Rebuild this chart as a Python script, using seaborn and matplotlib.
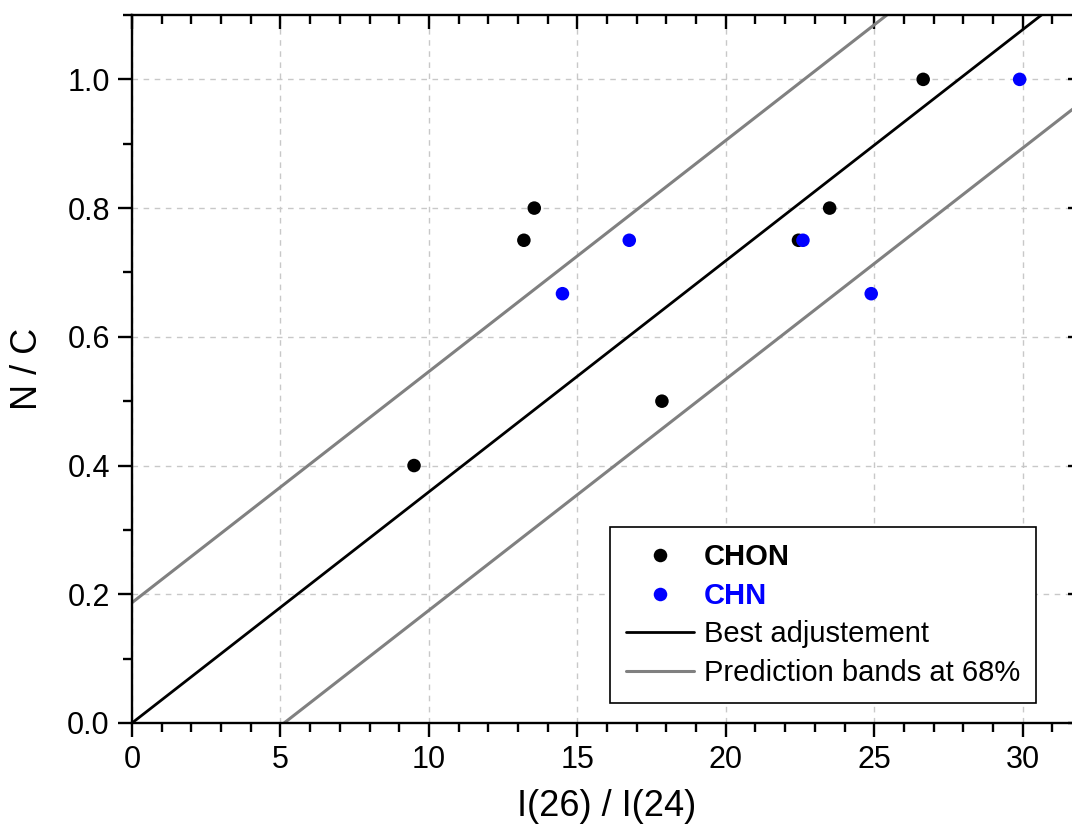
import matplotlib
matplotlib.use("Agg")
import matplotlib.pyplot as plt
import seaborn as sns
import pandas as pd
from matplotlib.ticker import MultipleLocator

# measured points
chon_x = [9.5, 13.2, 13.55, 17.85, 22.45, 23.5, 26.65]
chon_y = [0.4, 0.75, 0.8, 0.5, 0.75, 0.8, 1.0]
chn_x = [14.5, 16.75, 22.6, 24.9, 29.9]
chn_y = [0.667, 0.75, 0.75, 0.667, 1.0]

# fit line and 68% prediction bands (end points)
line_x = [0, 32]
fit_y = [0.0, 1.149]
upper_y = [0.187, 1.336]
lower_y = [-0.184, 0.965]

sns.set_theme(style="white")
plt.rcParams['font.family'] = ['Liberation Sans', 'DejaVu Sans']
plt.rcParams.update({'text.color': 'black', 'axes.labelcolor': 'black',
                     'xtick.color': 'black', 'ytick.color': 'black'})

fig = plt.figure(figsize=(10.72, 8.36), dpi=100)
ax = fig.add_axes([132 / 1072, 113 / 836, 950 / 1072, 708 / 836])

ax.grid(True, color='#c8c8c8', linestyle=(0, (4, 4)), linewidth=1)
ax.set_axisbelow(True)

sns.lineplot(x=line_x, y=upper_y, color='#808080', linewidth=2.2, label='Prediction bands at 68%', ax=ax)
sns.lineplot(x=line_x, y=lower_y, color='#808080', linewidth=2.2, label='_nolegend_', ax=ax)
sns.lineplot(x=line_x, y=fit_y, color='black', linewidth=2, label='Best adjustement', ax=ax)

pts = pd.DataFrame({
    'x': chon_x + chn_x,
    'y': chon_y + chn_y,
    'group': ['CHON'] * len(chon_x) + ['CHN'] * len(chn_x),
})
sns.scatterplot(data=pts, x='x', y='y', hue='group',
                palette={'CHON': 'black', 'CHN': 'blue'},
                s=95, linewidth=0, ax=ax, zorder=5)

ax.set_xlim(0, 32)
ax.set_ylim(0, 1.1)
ax.xaxis.set_major_locator(MultipleLocator(5))
ax.xaxis.set_minor_locator(MultipleLocator(1))
ax.yaxis.set_major_locator(MultipleLocator(0.2))
ax.yaxis.set_minor_locator(MultipleLocator(0.1))
ax.yaxis.set_major_formatter(matplotlib.ticker.FormatStrFormatter('%.1f'))

for sp in ax.spines.values():
    sp.set_color('black')
    sp.set_linewidth(1.7)

ax.tick_params(which='both', colors='black', width=1.7, labelsize=22, pad=6)
ax.tick_params(which='major', length=10)
ax.tick_params(which='minor', length=6.5)
ax.tick_params(axis='x', which='both', direction='out', bottom=True, top=True)
ax.tick_params(axis='y', which='both', direction='out', left=True, right=True)
# top and right ticks point inward
for t in ax.xaxis.get_major_ticks() + ax.xaxis.get_minor_ticks():
    t.tick2line.set_marker(matplotlib.lines.TICKDOWN)
for t in ax.yaxis.get_major_ticks() + ax.yaxis.get_minor_ticks():
    t.tick2line.set_marker(matplotlib.lines.TICKLEFT)

ax.set_xlabel('I(26) / I(24)', fontsize=26, labelpad=10)
ax.set_ylabel('N / C', fontsize=26, labelpad=16)

handles, labels = ax.get_legend_handles_labels()
order = [labels.index(n) for n in ['CHON', 'CHN', 'Best adjustement', 'Prediction bands at 68%']]
leg = ax.legend([handles[i] for i in order], [labels[i] for i in order],
                loc='lower right', bbox_to_anchor=(904 / 950, 20 / 708),
                bbox_transform=ax.transAxes, borderaxespad=0,
                fontsize=21, frameon=True, fancybox=False, framealpha=1,
                edgecolor='black', handlelength=2.3, handletextpad=0.35,
                labelspacing=0.36, borderpad=0.55)
leg.get_frame().set_linewidth(1.2)
leg.get_texts()[0].set_fontweight('bold')
leg.get_texts()[1].set_fontweight('bold')
leg.get_texts()[1].set_color('blue')

fig.savefig('out.png', dpi=100)
